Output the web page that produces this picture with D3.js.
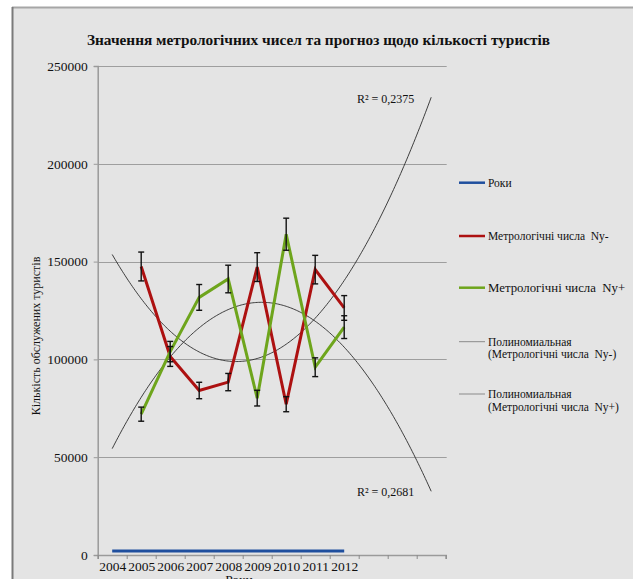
<!DOCTYPE html>
<html>
<head>
<meta charset="utf-8">
<script src="https://cdn.jsdelivr.net/npm/d3@7"></script>
<style>
  html, body { margin: 0; padding: 0; background: #ffffff; }
  svg { display: block; }
</style>
</head>
<body>
<svg id="chart" width="633" height="579"></svg>
<script>
// ---- data ----
const chartTitle = "Значення метрологічних чисел та прогноз щодо кількості туристів";
const yAxisTitle = "Кількість обслужених туристів";
const xAxisTitle = "Роки";
const yearLabels = ["2004", "2005", "2006", "2007", "2008", "2009", "2010", "2011", "2012"];
const forecastPeriods = 3;
const yTicks = [0, 50000, 100000, 150000, 200000, 250000];

// series values per category (null = no value)
const rokyValues = [2004, 2005, 2006, 2007, 2008, 2009, 2010, 2011, 2012];
const nyMinus = [null, 147500, 101500, 84100, 88400, 147200, 77100, 145900, 126300];
const nyPlus = [null, 72000, 104000, 131700, 141100, 80200, 164000, 96000, 116500];
const errorPercent = 5;

const seriesNames = ["Роки", "Метрологічні числа  Ny-", "Метрологічні числа  Ny+"];
const trendNames = [
  ["Полиномиальная", "(Метрологічні числа  Ny-)"],
  ["Полиномиальная", "(Метрологічні числа  Ny+)"]
];
const r2Labels = ["R² = 0,2375", "R² = 0,2681"];

// ---- layout ----
const FONT = "'Liberation Serif', 'Times New Roman', serif";
const svg = d3.select("#chart");
const plot = { left: 97.7, right: 445.7, top: 66, bottom: 555 };
const nCats = yearLabels.length + forecastPeriods;

function serif(sel, size, weight) {
  return sel.style("font-family", FONT).style("font-size", size + "px")
    .style("font-weight", weight || "normal").style("fill", "#111")
    .style("white-space", "pre");
}

// chart area background and frame
svg.append("rect").attr("x", 12).attr("y", 7).attr("width", 640).attr("height", 600)
  .attr("fill", "#e4e4e4");
svg.append("line").attr("x1", 12).attr("x2", 640).attr("y1", 7.5).attr("y2", 7.5)
  .attr("stroke", "#a6a6a6").attr("stroke-width", 2);
svg.append("line").attr("x1", 12.5).attr("x2", 12.5).attr("y1", 7).attr("y2", 600)
  .attr("stroke", "#7a7a7a").attr("stroke-width", 2);

const x = d3.scaleLinear().domain([0.5, nCats + 0.5]).range([plot.left, plot.right]);
const y = d3.scaleLinear().domain([0, 250000]).range([plot.bottom, plot.top]);

// horizontal gridlines
svg.append("g").selectAll("line").data(yTicks.filter(d => d > 0)).join("line")
  .attr("x1", plot.left).attr("x2", plot.right + 1)
  .attr("y1", d => Math.round(y(d)) + 0.5).attr("y2", d => Math.round(y(d)) + 0.5)
  .attr("stroke", "#9e9e9e").attr("stroke-width", 1);

// y axis
const yAxis = svg.append("g").attr("transform", `translate(${plot.left},0)`)
  .call(d3.axisLeft(y).tickValues(yTicks).tickSize(4).tickPadding(6).tickFormat(d3.format("d")));
yAxis.select(".domain").attr("stroke", "#9a9a9a").attr("stroke-width", 1.5);
yAxis.selectAll(".tick line").attr("stroke", "#9a9a9a");
serif(yAxis.selectAll(".tick text"), 13.5);

// x axis: tick marks between categories, labels under the year categories
const xAxis = svg.append("g").attr("transform", `translate(0,${plot.bottom})`)
  .call(d3.axisBottom(x).tickValues(d3.range(0.5, nCats + 1, 1)).tickSize(4).tickFormat(""));
xAxis.select(".domain").attr("stroke", "#9a9a9a").attr("stroke-width", 1.5);
xAxis.selectAll(".tick line").attr("stroke", "#8a8a8a");
const xLabels = svg.append("g").attr("transform", `translate(0,${plot.bottom})`)
  .call(d3.axisBottom(x).tickValues(d3.range(1, yearLabels.length + 1))
    .tickSize(0).tickPadding(6).tickFormat(i => yearLabels[i - 1]));
xLabels.select(".domain").remove();
serif(xLabels.selectAll(".tick text"), 13.5);

// quadratic least-squares fit over category index
function polyFit2(values) {
  const pts = values.map((v, i) => [i + 1, v]).filter(p => p[1] != null);
  let S = [0, 0, 0, 0, 0], T = [0, 0, 0];
  pts.forEach(([xi, yi]) => {
    for (let k = 0; k < 5; k++) S[k] += Math.pow(xi, k);
    for (let k = 0; k < 3; k++) T[k] += yi * Math.pow(xi, k);
  });
  const A = [[S[0], S[1], S[2], T[0]], [S[1], S[2], S[3], T[1]], [S[2], S[3], S[4], T[2]]];
  for (let c = 0; c < 3; c++) {
    for (let r = c + 1; r < 3; r++) {
      const f = A[r][c] / A[c][c];
      for (let k = c; k < 4; k++) A[r][k] -= f * A[c][k];
    }
  }
  const coef = [0, 0, 0];
  for (let r = 2; r >= 0; r--) {
    let s = A[r][3];
    for (let k = r + 1; k < 3; k++) s -= A[r][k] * coef[k];
    coef[r] = s / A[r][r];
  }
  return t => coef[0] + coef[1] * t + coef[2] * t * t;
}

const line = d3.line().defined(d => d[1] != null).x(d => x(d[0])).y(d => y(d[1]));

// trendlines (forecast forward)
[nyMinus, nyPlus].forEach(vals => {
  const f = polyFit2(vals);
  const pts = d3.range(1, nCats + 0.001, 0.05).map(t => [t, f(t)]);
  svg.append("path").attr("d", line(pts)).attr("fill", "none")
    .attr("stroke", "#2a2a2a").attr("stroke-width", 0.9);
});

// Роки series
svg.append("path").attr("d", line(rokyValues.map((v, i) => [i + 1, v])))
  .attr("fill", "none").attr("stroke", "#1f4f9e").attr("stroke-width", 3);

// metrological series
const seriesColors = ["#1f4f9e", "#ad1111", "#6ea51c"];
[nyMinus, nyPlus].forEach((vals, si) => {
  svg.append("path").attr("d", line(vals.map((v, i) => [i + 1, v])))
    .attr("fill", "none").attr("stroke", seriesColors[si + 1]).attr("stroke-width", 3)
    .attr("stroke-linejoin", "miter");
});

// error bars (percentage)
[nyMinus, nyPlus].forEach(vals => {
  const g = svg.append("g").attr("stroke", "#111").attr("stroke-width", 1.4);
  vals.forEach((v, i) => {
    if (v == null) return;
    const cx = x(i + 1), e = v * errorPercent / 100;
    const y0 = y(v - e), y1 = y(v + e);
    g.append("line").attr("x1", cx).attr("x2", cx).attr("y1", y0).attr("y2", y1);
    g.append("line").attr("x1", cx - 3).attr("x2", cx + 3).attr("y1", y0).attr("y2", y0);
    g.append("line").attr("x1", cx - 3).attr("x2", cx + 3).attr("y1", y1).attr("y2", y1);
  });
});

// R² labels
serif(svg.append("text").attr("x", 357).attr("y", 103), 12).text(r2Labels[0]);
serif(svg.append("text").attr("x", 357).attr("y", 496), 12).text(r2Labels[1]);

// titles
serif(svg.append("text").attr("x", 318.5).attr("y", 45).attr("text-anchor", "middle"), 15.3, "bold")
  .text(chartTitle);
serif(svg.append("text").attr("transform", "translate(40,336) rotate(-90)")
  .attr("text-anchor", "middle"), 12).text(yAxisTitle);
serif(svg.append("text").attr("x", 239).attr("y", 584).attr("text-anchor", "middle"), 13.5)
  .text(xAxisTitle);

// legend
const legendY = [182.7, 236, 287.7, 341.7, 394];
const legendItems = [
  { lines: [seriesNames[0]], color: seriesColors[0], w: 2.5, fs: 11.5 },
  { lines: [seriesNames[1]], color: seriesColors[1], w: 2.5, fs: 11.5 },
  { lines: [seriesNames[2]], color: seriesColors[2], w: 2.5, fs: 12.8 },
  { lines: trendNames[0], color: "#8a8a8a", w: 1, fs: 11.5 },
  { lines: trendNames[1], color: "#8a8a8a", w: 1, fs: 11.5 }
];
const lg = svg.append("g");
legendItems.forEach((it, i) => {
  const ly = legendY[i];
  lg.append("line").attr("x1", 459).attr("x2", 485).attr("y1", ly).attr("y2", ly)
    .attr("stroke", it.color).attr("stroke-width", it.w);
  it.lines.forEach((t, j) => {
    serif(lg.append("text").attr("x", 488).attr("y", ly + 4 + j * 12.5), it.fs).text(t);
  });
});
</script>
</body>
</html>
